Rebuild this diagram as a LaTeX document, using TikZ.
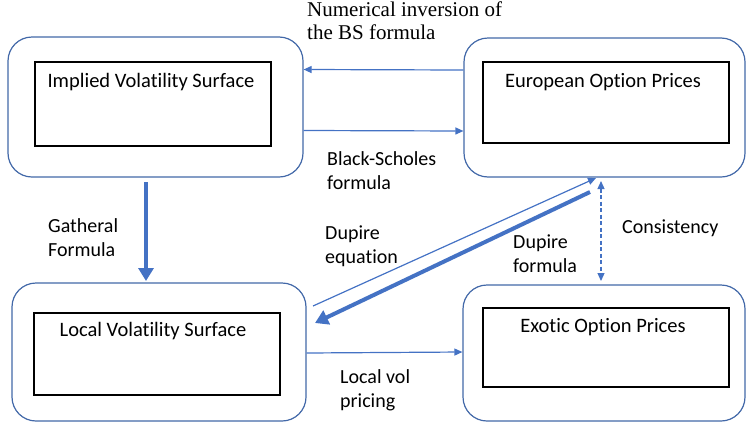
\documentclass[tikz,border=0pt]{standalone}
\usepackage{fontspec}
\setmainfont[Ligatures=NoCommon]{Carlito}
\newfontfamily\serifnote{Liberation Serif}
\usetikzlibrary{arrows.meta,calc}
\definecolor{boxblue}{RGB}{66,104,168}
\definecolor{arrblue}{RGB}{68,114,196}
\tikzset{
  outerbox/.style={draw=boxblue, line width=1.2pt, rounded corners=24pt, inner sep=0pt},
  innerbox/.style={draw=black, line width=1.1pt, inner sep=0pt},
  boxtext/.style={font=\fontsize{20.5}{22}\selectfont, inner sep=0pt},
  lbl/.style={font=\fontsize{20}{24}\selectfont, align=left, anchor=west, inner sep=0pt},
  thinarr/.style={draw=arrblue, line width=1.2pt, -{Triangle[length=8pt,width=7pt]}},
  thickarr/.style={draw=arrblue, line width=4pt, -{Triangle[length=13pt,width=15pt]}},
  dasharr/.style={draw=arrblue, line width=1.2pt, dash pattern=on 4pt off 2.5pt, {Triangle[length=8pt,width=7pt]}-{Triangle[length=8pt,width=7pt]}}
}
\begin{document}
\begin{tikzpicture}[x=1pt,y=-1pt]
\useasboundingbox (0,0) rectangle (749,426);
% outer boxes
\node[outerbox, minimum width=295pt, minimum height=140pt] (imp) at (155.5,107) {};
\node[outerbox, minimum width=281pt, minimum height=139pt] (eur) at (604.5,107.5) {};
\node[outerbox, minimum width=294pt, minimum height=138pt] (loc) at (159,352) {};
\node[outerbox, minimum width=282pt, minimum height=136pt] (exo) at (604,353) {};
% inner boxes
\node[innerbox, minimum width=236pt, minimum height=84pt] (impin) at (153,104) {};
\node[innerbox, minimum width=246pt, minimum height=81pt] (eurin) at (606,102.5) {};
\node[innerbox, minimum width=246pt, minimum height=82pt] (locin) at (157,354) {};
\node[innerbox, minimum width=246pt, minimum height=79pt] (exoin) at (606,347.5) {};
% box texts
\node[boxtext] (impt) at (151,82) {Implied Volatility Surface};
\node[boxtext] (eurt) at (603,82) {European Option Prices};
\node[boxtext] (loct) at (153,331) {Local Volatility Surface};
\node[boxtext] (exot) at (603,327) {Exotic Option Prices};
% connector end points
\coordinate (gA) at (146,182);
\coordinate (gB) at (146,281);
\coordinate (deA) at (313,306);
\coordinate (deB) at (596,178);
\coordinate (dfA) at (590,192);
\coordinate (dfB) at (315,323);
\coordinate (cA) at (601,181);
\coordinate (cB) at (601,281);
% connectors
\draw[thinarr] ([yshift=37.5pt]eur.west) -- ([yshift=37.5pt]imp.east);
\draw[thinarr] ([yshift=-23.5pt]imp.east) -- ([yshift=-23.5pt]eur.west);
\draw[thickarr] (gA) -- (gB);
\draw[thinarr] (deA) -- (deB);
\draw[thickarr] (dfA) -- (dfB);
\draw[dasharr] (cA) -- (cB);
\draw[thinarr] ([yshift=-1pt]loc.east) -- (loc.east -| exo.west);
% labels
\node[lbl, font=\serifnote\fontsize{21}{23}\selectfont] (l1) at (307,21) {Numerical inversion of\\the BS formula};
\node[lbl] (l2) at (327,171) {Black-Scholes\\formula};
\node[lbl] (l3) at (48,237.5) {Gatheral\\Formula};
\node[lbl] (l4) at (325,246.5) {Dupire\\equation};
\node[lbl] (l5) at (513,253.5) {Dupire\\formula};
\node[lbl] (l6) at (622,228) {Consistency};
\node[lbl] (l7) at (340,390) {Local vol\\pricing};
\end{tikzpicture}
\end{document}
